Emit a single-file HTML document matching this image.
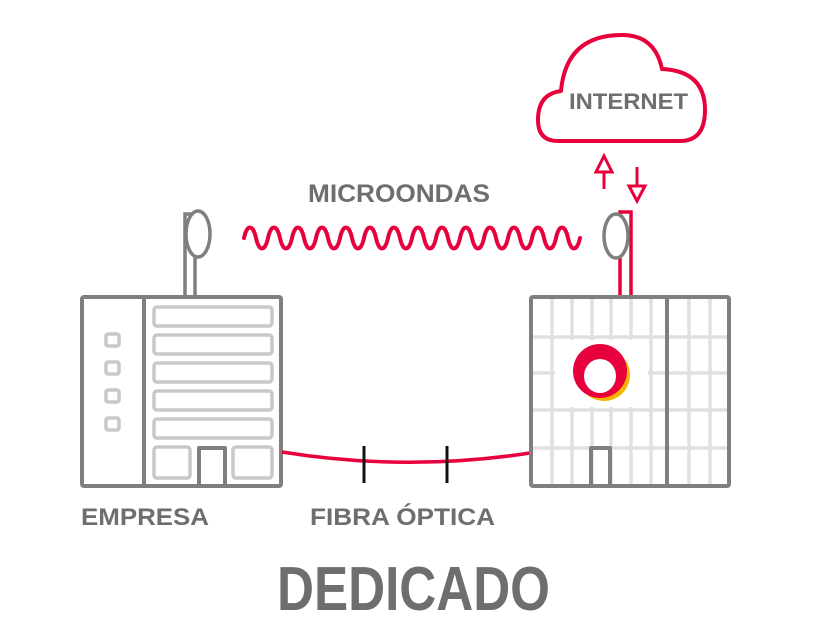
<!DOCTYPE html>
<html><head><meta charset="utf-8"><style>
html,body{margin:0;padding:0;background:#fff;}
svg{display:block;}
text{font-family:"Liberation Sans",sans-serif;font-weight:bold;fill:#6e6e6e;}
</style></head><body>
<svg width="834" height="625" viewBox="0 0 834 625" xmlns="http://www.w3.org/2000/svg">
<!-- cloud -->
<path d="M558 141 Q538 141 538 120 Q538 94 561 91 Q566 35 622 35 Q655 35 662 69 Q705 71 705 110 Q705 141 680 141 Z" fill="none" stroke="#e8003d" stroke-width="4" stroke-linejoin="round"/>
<text x="569" y="109" font-size="22" textLength="119" lengthAdjust="spacingAndGlyphs">INTERNET</text>
<!-- arrows -->
<g fill="none" stroke="#e8003d" stroke-width="3" stroke-linejoin="miter">
<line x1="604" y1="172" x2="604" y2="189"/>
<path d="M596 172 L604 156 L612 172 Z"/>
<line x1="637" y1="167" x2="637" y2="186"/>
<path d="M629 186 L637 201 L645 186 Z"/>
</g>
<text x="308" y="202" font-size="25" textLength="182" lengthAdjust="spacingAndGlyphs">MICROONDAS</text>
<!-- wave -->
<path fill="none" stroke="#e8003d" stroke-width="4" stroke-linecap="round" d="M244 238 c3 -14 9 -14 12 0 s9 14 12 0 s9 -14 12 0 s9 14 12 0 s9 -14 12 0 s9 14 12 0 s9 -14 12 0 s9 14 12 0 s9 -14 12 0 s9 14 12 0 s9 -14 12 0 s9 14 12 0 s9 -14 12 0 s9 14 12 0 s9 -14 12 0 s9 14 12 0 s9 -14 12 0 s9 14 12 0 s9 -14 12 0 s9 14 12 0 s9 -14 12 0 s9 14 12 0 s9 -14 12 0 s9 14 12 0 s9 -14 12 0 s9 14 12 0 s9 -14 12 0 s9 14 12 0"/>
<!-- left antenna -->
<g fill="none" stroke="#7f7f7f" stroke-width="3.5">
<path d="M185 297 V214 H195 V297"/>
<ellipse cx="198" cy="234" rx="12" ry="23" fill="#fff"/>
</g>
<!-- left building -->
<g fill="none" stroke="#c8c8c8" stroke-width="3.5">
<rect x="154" y="307" width="118" height="19" rx="3"/>
<rect x="154" y="335" width="118" height="19" rx="3"/>
<rect x="154" y="363" width="118" height="19" rx="3"/>
<rect x="154" y="391" width="118" height="19" rx="3"/>
<rect x="154" y="419" width="118" height="19" rx="3"/>
<rect x="154" y="447" width="36" height="31" rx="3"/>
<rect x="233" y="447" width="39" height="31" rx="3"/>
<rect x="106" y="334" width="13" height="12" rx="2"/>
<rect x="106" y="362" width="13" height="12" rx="2"/>
<rect x="106" y="390" width="13" height="12" rx="2"/>
<rect x="106" y="418" width="13" height="12" rx="2"/>
</g>
<g fill="none" stroke="#7f7f7f" stroke-width="4" stroke-linejoin="round">
<rect x="82" y="297" width="199" height="189" rx="2"/>
<line x1="144" y1="297" x2="144" y2="486"/>
<path d="M199 486 V448 H225 V486"/>
</g>
<!-- fiber -->
<path d="M282 452 Q406 472 530 453" fill="none" stroke="#e8003d" stroke-width="3.5"/>
<line x1="364" y1="446" x2="364" y2="483" stroke="#111" stroke-width="3"/>
<line x1="447" y1="446" x2="447" y2="483" stroke="#111" stroke-width="3"/>
<!-- right antenna -->
<path d="M620 297 V212 H631 V297" fill="none" stroke="#e8003d" stroke-width="3.5"/>
<ellipse cx="616" cy="236" rx="12" ry="22" fill="#fff" stroke="#7f7f7f" stroke-width="3.5"/>
<!-- right building grid -->
<g stroke="#e0e0e0" stroke-width="3.5">
<line x1="552" y1="297" x2="552" y2="486"/><line x1="572" y1="297" x2="572" y2="486"/>
<line x1="592" y1="297" x2="592" y2="486"/><line x1="611" y1="297" x2="611" y2="486"/>
<line x1="631" y1="297" x2="631" y2="486"/><line x1="651" y1="297" x2="651" y2="486"/>
<line x1="689" y1="297" x2="689" y2="486"/><line x1="710" y1="297" x2="710" y2="486"/>
<line x1="530" y1="337" x2="729" y2="337"/><line x1="530" y1="373" x2="729" y2="373"/>
<line x1="530" y1="410" x2="729" y2="410"/><line x1="530" y1="448" x2="729" y2="448"/>
</g>
<rect x="555" y="340" width="93" height="67" fill="#fff"/>
<!-- logo -->
<ellipse cx="604" cy="375" rx="26" ry="26" fill="#f7b500"/>
<ellipse cx="600" cy="371" rx="27" ry="27" fill="#e8003d"/>
<ellipse cx="600" cy="376" rx="16" ry="17" fill="#fff"/>
<g fill="none" stroke="#7f7f7f" stroke-width="4" stroke-linejoin="round">
<rect x="531" y="297" width="198" height="189" rx="2"/>
<line x1="667" y1="297" x2="667" y2="486"/>
<path d="M591 486 V448 H610 V486"/>
</g>
<text x="81" y="525" font-size="24" textLength="128" lengthAdjust="spacingAndGlyphs">EMPRESA</text>
<text x="310" y="525" font-size="24" textLength="185" lengthAdjust="spacingAndGlyphs">FIBRA ÓPTICA</text>
<text x="277" y="610" font-size="62" textLength="273" lengthAdjust="spacingAndGlyphs">DEDICADO</text>
</svg>
</body></html>
